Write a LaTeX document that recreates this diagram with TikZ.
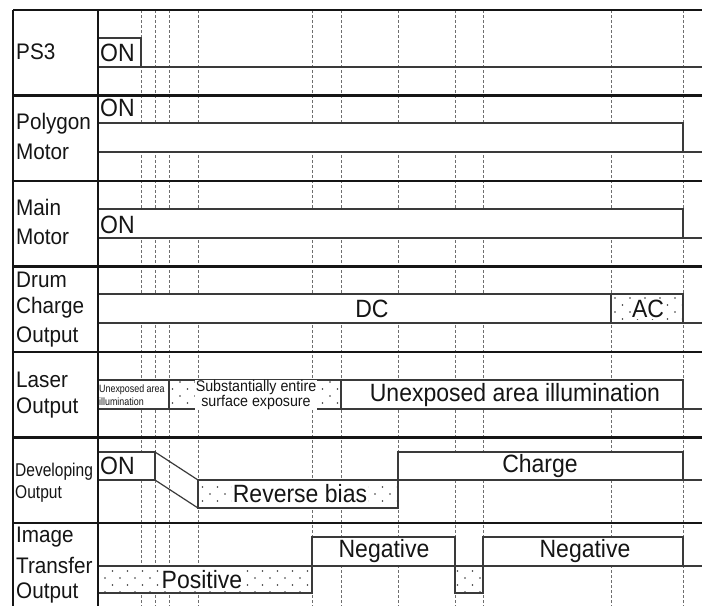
\documentclass[tikz,border=0pt]{standalone}
\usepackage{fontspec}
\setmainfont{Liberation Sans}
\newfontfamily\tallfont{Liberation Sans}[FakeStretch=0.92]
\newfontfamily\narrowfont{Liberation Sans}[FakeStretch=0.84]
\usetikzlibrary{patterns}

% sparse staggered dots for the hatched signal states
\pgfdeclarepatternformonly{sparsedots}{\pgfqpoint{-1pt}{-1pt}}{\pgfqpoint{16pt}{15pt}}{\pgfqpoint{15pt}{14pt}}{%
  \pgfpathcircle{\pgfqpoint{0pt}{0pt}}{0.8pt}%
  \pgfpathcircle{\pgfqpoint{7.5pt}{7pt}}{0.8pt}%
  \pgfusepath{fill}}

\definecolor{wave}{HTML}{3A3A3A}
\definecolor{grid}{HTML}{6E6E6E}
\definecolor{ink}{HTML}{151515}

\tikzset{
  frameline/.style={line width=2.2pt, draw=ink},
  guide/.style={draw=grid, line width=0.9pt, dash pattern=on 3pt off 2pt},
  sig/.style={draw=wave, line width=1.2pt, fill=white},
  sigdot/.style={draw=wave, line width=1.2pt, fill=white, postaction={pattern=sparsedots, pattern color=wave}},
  rowlabel/.style={anchor=west, inner sep=0pt, text=ink, font=\tallfont\fontsize{22.5}{24}\selectfont},
  smalllabel/.style={anchor=west, inner sep=0pt, text=ink, font=\narrowfont\fontsize{18.5}{20}\selectfont},
  wavetext/.style={inner sep=0pt, text=ink, font=\tallfont\fontsize{25}{26}\selectfont},
}

\begin{document}
\begin{tikzpicture}[x=1pt, y=-1pt]
\useasboundingbox (0,0) rectangle (702,606);
\fill[white] (0,0) rectangle (702,606);

% timing guides
\foreach \gx in {141,155,169,198,312,341,398,455,483,611,683}
  \draw[guide] (\gx,10) -- (\gx,606);

% PS3
\draw[sig] (98,38) rectangle (141,67);
\draw[sig] (98,67) -- (702,67);
% Polygon motor
\fill[white] (98,123) rectangle (683,152);
\draw[sig] (98,123) -- (683,123) -- (683,152);
\draw[sig] (98,152) -- (702,152);
% Main motor
\fill[white] (98,209) rectangle (683,238);
\draw[sig] (98,209) -- (683,209) -- (683,238);
\draw[sig] (98,238) -- (702,238);
% Drum charge output
\draw[sig] (98,294) rectangle (611,323);
\draw[sigdot] (611,294) rectangle (683,323);
\draw[sig] (98,323) -- (702,323);
% Laser output
\draw[sig] (98,380) rectangle (169,409);
\draw[sigdot] (169,380) rectangle (341,409);
\draw[sig] (341,380) rectangle (683,409);
\draw[sig] (98,409) -- (702,409);
% Developing output
\draw[sig] (98,452) rectangle (155,480);
\draw[wave, line width=1.2pt] (155,452) -- (198,480);
\draw[wave, line width=1.2pt] (155,480) -- (198,508);
\draw[sigdot] (198,480) rectangle (398,508);
\draw[sig] (398,452) rectangle (683,480);
\draw[sig] (683,480) -- (702,480);
% Image transfer output
\draw[sigdot] (98,566) rectangle (312,593);
\draw[sig] (312,537) rectangle (455,566);
\draw[sigdot] (455,566) rectangle (483,593);
\draw[sig] (483,537) rectangle (683,566);
\draw[sig] (98,566) -- (702,566);

% frame and row separators
\draw[frameline] (13,10) -- (702,10);
\draw[frameline] (13,10) -- (13,606);
\draw[frameline] (98,10) -- (98,606);
\foreach \ry in {95.5,181,266.5,352,437.5,523}
  \draw[frameline] (13,\ry) -- (702,\ry);

% row labels
\node[rowlabel] (lps) at (16,52) {PS3};
\node[rowlabel] (lpoly1) at (16,124) {Polygon};
\node[rowlabel] (lpoly2) at (16,152) {Motor};
\node[rowlabel] (lmain1) at (16,207) {Main};
\node[rowlabel] (lmain2) at (16,237) {Motor};
\node[rowlabel] (ldrum1) at (16,280) {Drum};
\node[rowlabel] (ldrum2) at (16,308) {Charge};
\node[rowlabel] (ldrum3) at (16,337) {Output};
\node[rowlabel] (llas1) at (16,380) {Laser};
\node[rowlabel] (llas2) at (16,408) {Output};
\node[smalllabel] (ldev1) at (15,472) {Developing};
\node[smalllabel] (ldev2) at (15,494) {Output};
\node[rowlabel] (limg1) at (16,537) {Image};
\node[rowlabel] (limg2) at (16,565) {Transfer};
\node[rowlabel] (limg3) at (16,593) {Output};

% signal state labels
\node[wavetext, anchor=west] (ps) at (100,53) {ON};
\node[wavetext, anchor=west] (poly) at (100,108) {ON};
\node[wavetext, anchor=west] (mainon) at (100,225) {ON};
\node[wavetext] (dc) at (372,309) {DC};
\node[wavetext, fill=white, inner sep=1pt] (ac) at (648,309) {AC};
\node[inner sep=0pt, text=ink, font=\narrowfont\fontsize{10.6}{12.5}\selectfont, align=left, anchor=west] (lasa) at (99,395) {Unexposed area\\illumination};
\node[inner sep=0.5pt, fill=white, text=ink, font=\tallfont\fontsize{15.5}{12}\selectfont, align=center] (lasb) at (256,395) {Substantially entire\\surface exposure};
\node[wavetext] (lasc) at (515,395) {Unexposed area illumination};
\node[wavetext, anchor=west] (devon) at (100,466) {ON};
\node[wavetext, fill=white, inner sep=1pt] (rev) at (300,494) {Reverse bias};
\node[wavetext] (chg) at (540,466) {Charge};
\node[wavetext, fill=white, inner sep=1pt] (pos) at (202,580) {Positive};
\node[wavetext] (neg1) at (384,551) {Negative};
\node[wavetext] (neg2) at (585,551) {Negative};
\end{tikzpicture}
\end{document}
